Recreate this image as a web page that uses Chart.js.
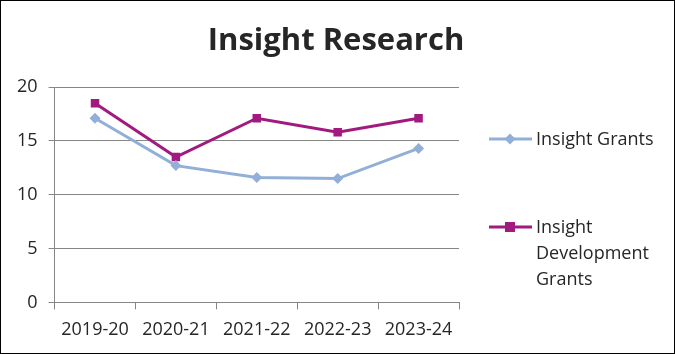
<!DOCTYPE html>
<html>
<head>
<meta charset="utf-8">
<script src="https://cdn.jsdelivr.net/npm/chart.js@4.4.0/dist/chart.umd.min.js"></script>
<style>
  html, body { margin: 0; padding: 0; background: #fff; }
  #wrap { width: 675px; height: 354px; box-sizing: border-box; border: 1px solid #000; position: relative; }
  canvas { display: block; }
</style>
</head>
<body>
<div id="wrap"><canvas id="c" width="673" height="352"></canvas></div>
<script>
const categories = ['2019-20', '2020-21', '2021-22', '2022-23', '2023-24'];
const insightGrants = [17.1, 12.7, 11.6, 11.5, 14.3];
const insightDevelopmentGrants = [18.5, 13.5, 17.1, 15.8, 17.1];
const seriesNames = ['Insight Grants', ['Insight', 'Development', 'Grants']];
const yTicks = [0, 5, 10, 15, 20];
const chartTitle = 'Insight Research';

const FONT = "'Open Sans', 'Liberation Sans', sans-serif";
const TEXT = '#262626';
const BLUE = '#92AFD8';
const PURPLE = '#A2197F';

const legendPlugin = {
  id: 'sideLegend',
  afterDraw(chart) {
    const ctx = chart.ctx;
    ctx.save();
    // title, centred over the whole chart
    ctx.font = "bold 31px " + FONT;
    ctx.fillStyle = TEXT;
    ctx.textAlign = 'center';
    ctx.textBaseline = 'middle';
    ctx.fillText(chartTitle, 335, 40);

    const items = [
      { color: BLUE, style: 'diamond', lines: [].concat(seriesNames[0]), y: 138 },
      { color: PURPLE, style: 'square', lines: [].concat(seriesNames[1]), y: 226 }
    ];
    ctx.font = "18px " + FONT;
    ctx.textBaseline = 'middle';
    ctx.textAlign = 'left';
    items.forEach(it => {
      ctx.strokeStyle = it.color;
      ctx.lineWidth = 3;
      ctx.beginPath();
      ctx.moveTo(488, it.y);
      ctx.lineTo(531, it.y);
      ctx.stroke();
      ctx.fillStyle = it.color;
      if (it.style === 'diamond') {
        ctx.beginPath();
        ctx.moveTo(509, it.y - 5.5);
        ctx.lineTo(514.5, it.y);
        ctx.lineTo(509, it.y + 5.5);
        ctx.lineTo(503.5, it.y);
        ctx.closePath();
        ctx.fill();
      } else {
        ctx.fillRect(504, it.y - 5, 10, 10);
      }
      ctx.fillStyle = TEXT;
      it.lines.forEach((t, i) => ctx.fillText(t, 535, it.y + 1 + i * 25.7));
    });
    ctx.restore();
  }
};

new Chart(document.getElementById('c'), {
  type: 'line',
  data: {
    labels: categories,
    datasets: [
      {
        label: 'Insight Grants',
        data: insightGrants,
        borderColor: BLUE,
        backgroundColor: BLUE,
        borderWidth: 3,
        pointStyle: 'rectRot',
        pointRadius: 5.5,
        pointHoverRadius: 5.5,
        pointBorderWidth: 0,
        tension: 0
      },
      {
        label: 'Insight Development Grants',
        data: insightDevelopmentGrants,
        borderColor: PURPLE,
        backgroundColor: PURPLE,
        borderWidth: 3,
        pointStyle: 'rect',
        pointRadius: 6,
        pointHoverRadius: 6,
        pointBorderWidth: 0,
        tension: 0
      }
    ]
  },
  options: {
    responsive: false,
    animation: false,
    layout: { padding: { left: 5, right: 215, top: 86, bottom: 2 } },
    plugins: {
      legend: { display: false },
      tooltip: { enabled: false },
      title: { display: false }
    },
    scales: {
      x: {
        offset: true,
        grid: {
          offset: true,
          drawOnChartArea: false,
          drawTicks: true,
          tickLength: 7,
          color: '#868686'
        },
        border: { display: false },
        ticks: { color: TEXT, font: { family: FONT, size: 18 }, padding: 10, maxRotation: 0 }
      },
      y: {
        min: 0,
        max: 20,
        afterBuildTicks(scale) { scale.ticks = yTicks.map(v => ({ value: v })); },
        grid: { color: '#868686', tickLength: 6, lineWidth: 1 },
        border: { display: true, color: '#868686' },
        ticks: { color: TEXT, font: { family: FONT, size: 18 }, padding: 11 }
      }
    }
  },
  plugins: [legendPlugin]
});
</script>
</body>
</html>
